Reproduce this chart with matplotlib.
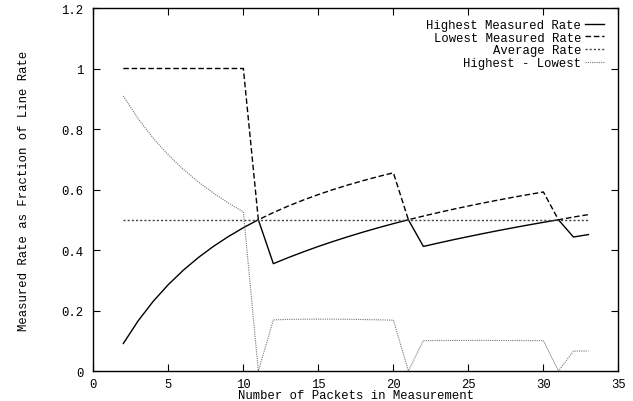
import numpy as np
import matplotlib
matplotlib.use("Agg")
import matplotlib.pyplot as plt

# packets in measurement
n = list(range(2, 34))

highest = [0.0909, 0.1667, 0.2308, 0.2857, 0.3333, 0.375, 0.4118, 0.4444, 0.4737, 0.5,
           0.3548, 0.375, 0.3939, 0.4118, 0.4286, 0.4444, 0.4595, 0.4737, 0.4872, 0.5,
           0.4118, 0.4231, 0.4340, 0.4444, 0.4545, 0.4643, 0.4737, 0.4828, 0.4915, 0.5,
           0.443, 0.451]
lowest = [1.0, 1.0, 1.0, 1.0, 1.0, 1.0, 1.0, 1.0, 1.0, 0.5,
          0.5238, 0.5455, 0.5652, 0.5833, 0.6, 0.6154, 0.6296, 0.6429, 0.6552, 0.5,
          0.5122, 0.5238, 0.5349, 0.5455, 0.5556, 0.5652, 0.5745, 0.5833, 0.5918, 0.5,
          0.509, 0.517]
average = [0.5] * 32
diff = [0.9091, 0.8333, 0.7692, 0.7143, 0.6667, 0.625, 0.5882, 0.5556, 0.5263, 0.0,
        0.1690, 0.1705, 0.1713, 0.1715, 0.1714, 0.1710, 0.1701, 0.1692, 0.1680, 0.0,
        0.1004, 0.1007, 0.1009, 0.1011, 0.1011, 0.1009, 0.1008, 0.1005, 0.1003, 0.0,
        0.066, 0.066]

xticks = [0, 5, 10, 15, 20, 25, 30, 35]
yticks = [0, 0.2, 0.4, 0.6, 0.8, 1, 1.2]
yticklabels = ['0', '0.2', '0.4', '0.6', '0.8', '1', '1.2']

plt.rcParams['font.family'] = ['Liberation Mono', 'DejaVu Sans Mono']
fs = 8.8

fig = plt.figure(figsize=(6.33, 4.02), dpi=100)
ax = fig.add_axes([0.1474, 0.0746, 0.977 - 0.1474, 0.9776 - 0.0746])

ax.plot(n, highest, color='black', lw=1.0, label='Highest Measured Rate')
ax.plot(n, lowest, color='black', lw=1.0, linestyle=(0, (4, 2)), label='Lowest Measured Rate')
ax.plot(n, average, color='#444444', lw=1.0, linestyle=(0, (1.5, 1.5)), label='Average Rate')
ax.plot(n, diff, color='#777777', lw=0.8, linestyle=(0, (1, 1)), label='Highest - Lowest')

ax.set_xlim(0, 35)
ax.set_ylim(0, 1.2)
ax.set_xticks(xticks)
ax.set_yticks(yticks)
ax.set_yticklabels(yticklabels)
ax.tick_params(direction='in', top=True, right=True, length=5, width=0.8,
               labelsize=fs, colors='black')
ax.tick_params(axis='x', pad=5)
ax.tick_params(axis='y', pad=7)
for s in ax.spines.values():
    s.set_linewidth(1.0)

ax.set_xlabel('Number of Packets in Measurement', fontsize=fs, labelpad=-1)
ax.set_ylabel('Measured Rate as Fraction of Line Rate', fontsize=fs, labelpad=23)

ax.legend(loc='upper right', frameon=False, markerfirst=False, fontsize=fs,
          handlelength=1.5, handletextpad=0.35, labelspacing=0.05,
          borderaxespad=0.5, bbox_to_anchor=(0.993, 1.0))

fig.savefig('out.png', dpi=100)
